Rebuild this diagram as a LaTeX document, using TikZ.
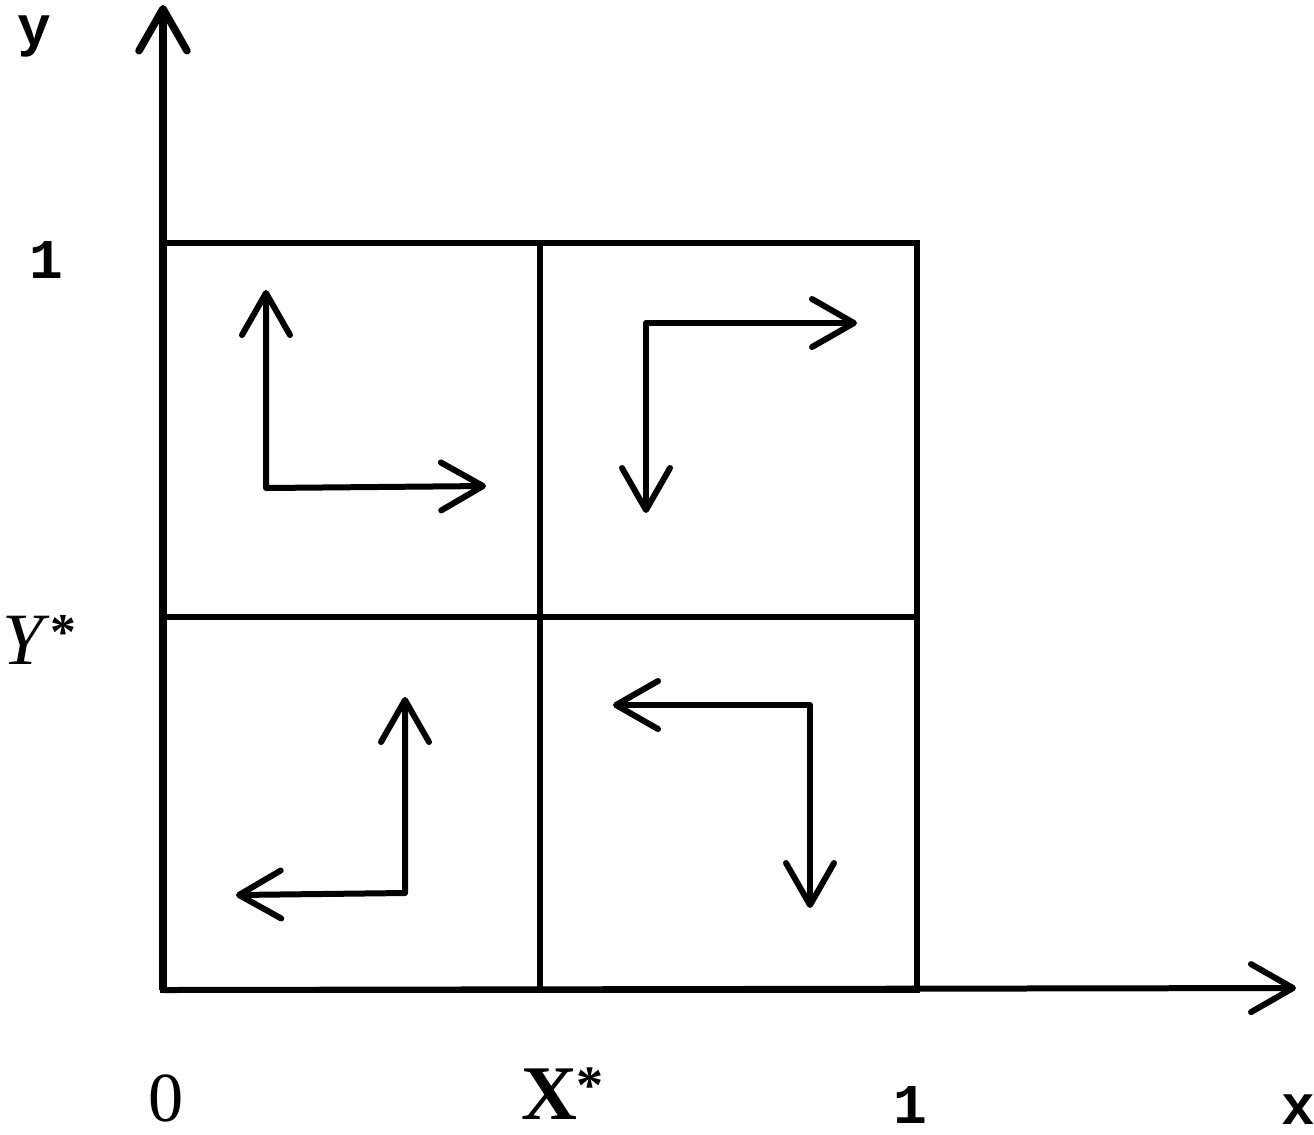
\documentclass[tikz,border=0pt]{standalone}
\usepackage{fontspec}
\setmainfont{Liberation Serif}
\setmonofont{Liberation Mono}
\usetikzlibrary{arrows.meta}

\tikzset{
	barb/.tip={Straight Barb[length=0.84cm, width=0.96cm, round]},
	gridline/.style={line width=0.12cm, line cap=round},
	flow/.style={line width=0.12cm, line join=round, barb-barb},
	axislabel/.style={inner sep=0pt, font=\fontsize{32}{34}\selectfont\ttfamily\bfseries}
}

\begin{document}
\begin{tikzpicture}[x=0.02cm, y=-0.02cm]
	\useasboundingbox (0,0) rectangle (1314,1134);
	% Eckpunkte des Gitters
	\coordinate (o) at (163,990);
	\coordinate (xs) at (540,990);
	\coordinate (xe) at (917,990);
	\coordinate (ys) at (163,617);
	\coordinate (ye) at (163,243);
	\coordinate (tm) at (540,243);
	\coordinate (tr) at (917,243);
	\coordinate (mr) at (917,617);
	\coordinate (ytip) at (163,5);
	\coordinate (xtip) at (1296,988);

	% Gitter
	\draw[gridline] (o) rectangle (tr);
	\draw[gridline] (xs) -- (tm);
	\draw[gridline] (ys) -- (mr);

	% Achsen
	\draw[line width=0.15cm, -barb] (o) -- (ytip);
	\draw[line width=0.12cm, -barb] (o) -- (xtip);

	% Pfeile in den Feldern
	\coordinate (a1) at (266,290);
	\coordinate (a2) at (266,488);
	\coordinate (a3) at (486,486);
	\draw[flow] (a1) -- (a2) -- (a3);

	\coordinate (b1) at (646,513);
	\coordinate (b2) at (646,323);
	\coordinate (b3) at (857,323);
	\draw[flow] (b1) -- (b2) -- (b3);

	\coordinate (c1) at (405,697);
	\coordinate (c2) at (405,893);
	\coordinate (c3) at (236,895);
	\draw[flow] (c1) -- (c2) -- (c3);

	\coordinate (d1) at (613,705);
	\coordinate (d2) at (810,705);
	\coordinate (d3) at (810,908);
	\draw[flow] (d1) -- (d2) -- (d3);

	% Beschriftungen
	\node[axislabel] (ylabel) at (34,36) {y};
	\node[axislabel] (yone) at (46,260) {1};
	\node[inner sep=0pt, font=\fontsize{42}{44}\selectfont] (ystar) at (40,640) {\textit{Y}\textsuperscript{\textbf{*}}};
	\node[inner sep=0pt, font=\fontsize{40}{42}\selectfont] (zero) at (166,1098) {0};
	\node[inner sep=0pt, font=\fontsize{44}{46}\selectfont\bfseries] (xstar) at (563,1094) {X\textsuperscript{*}};
	\node[axislabel] (xone) at (910,1105) {1};
	\node[axislabel] (xlabel) at (1298,1110) {x};
\end{tikzpicture}
\end{document}
